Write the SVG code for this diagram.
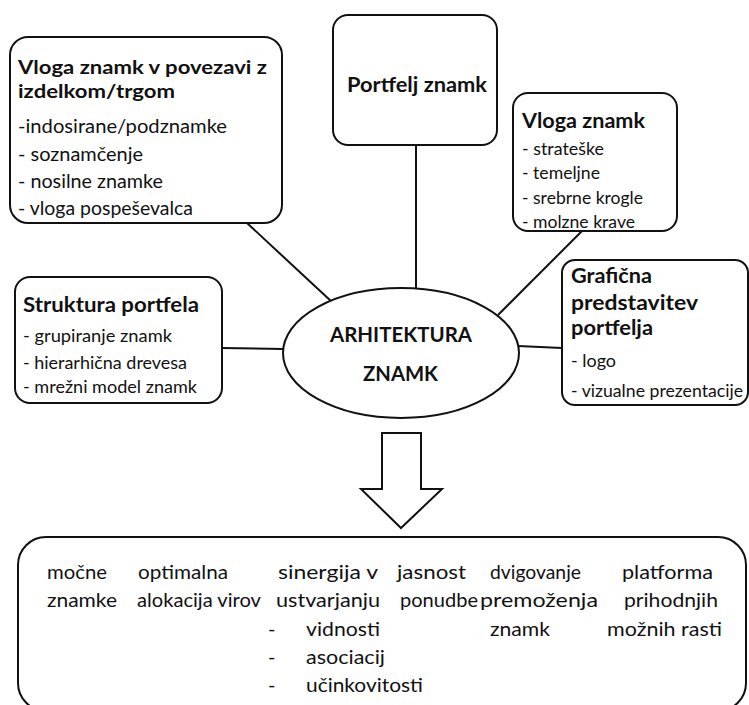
<svg xmlns="http://www.w3.org/2000/svg" width="749" height="705" viewBox="0 0 749 705">
<style>
.box{fill:#fff;stroke:#111;stroke-width:2}
.ln{stroke:#111;stroke-width:2;fill:none}
text{font-family:Lato,"Open Sans","Liberation Sans",sans-serif;fill:#111}
.h{font-weight:700;font-size:21px}
.h2{font-weight:700;font-size:19.5px}
.r1{font-size:19.5px}
.r2{font-size:17.5px}
.c{font-weight:700;font-size:20px}
.b{font-size:20px}
</style>
<rect width="749" height="705" fill="#fff"/>
<g id="connectors">
<line class="ln" x1="247" y1="223" x2="332" y2="302"/>
<line class="ln" x1="416" y1="145" x2="416" y2="288"/>
<line class="ln" x1="582" y1="231" x2="498" y2="315"/>
<line class="ln" x1="222" y1="348" x2="283" y2="349"/>
<line class="ln" x1="518" y1="346" x2="562" y2="348"/>
</g>
<g id="n1">
<rect class="box" x="10" y="37" width="272" height="186" rx="18"/>
<text class="h2" x="18" y="74" textLength="249" lengthAdjust="spacingAndGlyphs">Vloga znamk v povezavi z</text>
<text class="h2" x="18" y="98" textLength="157" lengthAdjust="spacingAndGlyphs">izdelkom/trgom</text>
<text class="r1" x="18" y="133" textLength="209" lengthAdjust="spacingAndGlyphs">-indosirane/podznamke</text>
<text class="r1" x="18" y="161" textLength="125" lengthAdjust="spacingAndGlyphs">- soznamčenje</text>
<text class="r1" x="18" y="188" textLength="145" lengthAdjust="spacingAndGlyphs">- nosilne znamke</text>
<text class="r1" x="18" y="215" textLength="175" lengthAdjust="spacingAndGlyphs">- vloga pospeševalca</text>
</g>
<g id="n2">
<rect class="box" x="333" y="15" width="164" height="130" rx="15"/>
<text class="h" x="347" y="92" textLength="140" lengthAdjust="spacingAndGlyphs">Portfelj znamk</text>
</g>
<g id="n3">
<rect class="box" x="513" y="93" width="164" height="138" rx="15"/>
<text class="h" x="522" y="128" textLength="123" lengthAdjust="spacingAndGlyphs">Vloga znamk</text>
<text class="r2" x="522" y="155" textLength="82" lengthAdjust="spacingAndGlyphs">- strateške</text>
<text class="r2" x="522" y="179" textLength="78" lengthAdjust="spacingAndGlyphs">- temeljne</text>
<text class="r2" x="522" y="204" textLength="121" lengthAdjust="spacingAndGlyphs">- srebrne krogle</text>
<text class="r2" x="522" y="228" textLength="113" lengthAdjust="spacingAndGlyphs">- molzne krave</text>
</g>
<g id="n4">
<rect class="box" x="15" y="277" width="207" height="126" rx="15"/>
<text class="h" x="23" y="312" textLength="176" lengthAdjust="spacingAndGlyphs">Struktura portfela</text>
<text class="r2" x="23" y="342" textLength="149" lengthAdjust="spacingAndGlyphs">-  grupiranje znamk</text>
<text class="r2" x="23" y="369" textLength="164" lengthAdjust="spacingAndGlyphs">- hierarhična drevesa</text>
<text class="r2" x="23" y="393" textLength="174" lengthAdjust="spacingAndGlyphs">- mrežni model znamk</text>
</g>
<g id="n5">
<rect class="box" x="562" y="260" width="186" height="145" rx="13"/>
<text class="h" x="571" y="283" textLength="81" lengthAdjust="spacingAndGlyphs">Grafična</text>
<text class="h" x="571" y="310" textLength="127" lengthAdjust="spacingAndGlyphs">predstavitev</text>
<text class="h" x="571" y="335" textLength="82" lengthAdjust="spacingAndGlyphs">portfelja</text>
<text class="r2" x="571" y="367" textLength="45" lengthAdjust="spacingAndGlyphs">- logo</text>
<text class="r2" x="571" y="397" textLength="172" lengthAdjust="spacingAndGlyphs">- vizualne prezentacije</text>
</g>
<g id="center">
<ellipse class="box" cx="401" cy="353" rx="118" ry="65"/>
<text class="c" x="330" y="342" textLength="142" lengthAdjust="spacingAndGlyphs">ARHITEKTURA</text>
<text class="c" x="363" y="381" textLength="75" lengthAdjust="spacingAndGlyphs">ZNAMK</text>
</g>
<g id="arrow">
<polygon class="box" points="382,433 421,433 421,489 442,489 401,528 361,489 382,489"/>
</g>
<g id="result">
<rect class="box" x="18" y="537" width="728" height="174" rx="28"/>
<text class="b" x="47" y="579" textLength="60" lengthAdjust="spacingAndGlyphs">močne</text>
<text class="b" x="47" y="607" textLength="70" lengthAdjust="spacingAndGlyphs">znamke</text>
<text class="b" x="138" y="579" textLength="90" lengthAdjust="spacingAndGlyphs">optimalna</text>
<text class="b" x="137" y="607" textLength="124" lengthAdjust="spacingAndGlyphs">alokacija virov</text>
<text class="b" x="278" y="579" textLength="100" lengthAdjust="spacingAndGlyphs">sinergija v</text>
<text class="b" x="276" y="607" textLength="104" lengthAdjust="spacingAndGlyphs">ustvarjanju</text>
<text class="b" x="268" y="636">-</text>
<text class="b" x="306" y="636" textLength="74" lengthAdjust="spacingAndGlyphs">vidnosti</text>
<text class="b" x="268" y="664">-</text>
<text class="b" x="306" y="664" textLength="79" lengthAdjust="spacingAndGlyphs">asociacij</text>
<text class="b" x="268" y="692">-</text>
<text class="b" x="306" y="692" textLength="117" lengthAdjust="spacingAndGlyphs">učinkovitosti</text>
<text class="b" x="397" y="579" textLength="69" lengthAdjust="spacingAndGlyphs">jasnost</text>
<text class="b" x="400" y="607" textLength="78" lengthAdjust="spacingAndGlyphs">ponudbe</text>
<text class="b" x="490" y="579" textLength="91" lengthAdjust="spacingAndGlyphs">dvigovanje</text>
<text class="b" x="480" y="607" textLength="118" lengthAdjust="spacingAndGlyphs">premoženja</text>
<text class="b" x="490" y="636" textLength="60" lengthAdjust="spacingAndGlyphs">znamk</text>
<text class="b" x="622" y="579" textLength="91" lengthAdjust="spacingAndGlyphs">platforma</text>
<text class="b" x="624" y="607" textLength="94" lengthAdjust="spacingAndGlyphs">prihodnjih</text>
<text class="b" x="607" y="636" textLength="115" lengthAdjust="spacingAndGlyphs">možnih  rasti</text>
</g>
</svg>
